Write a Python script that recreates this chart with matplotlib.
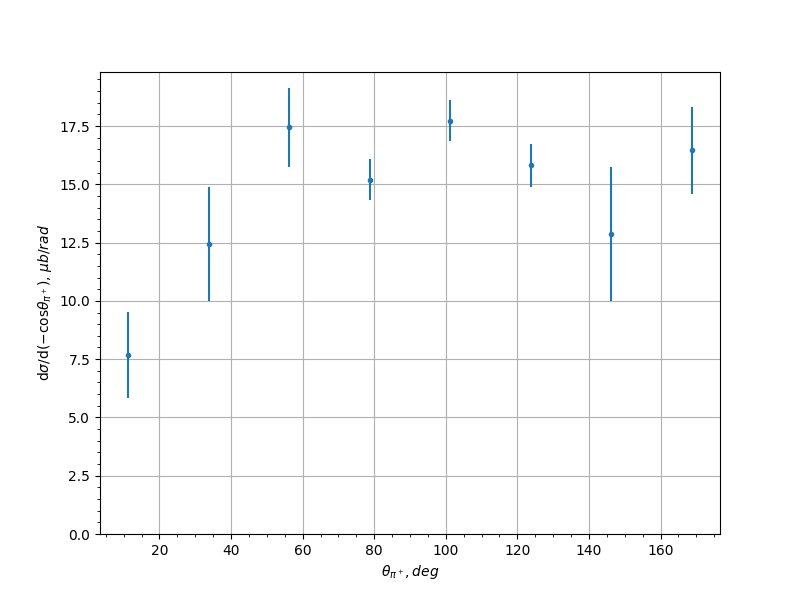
import numpy as np
import matplotlib
matplotlib.use("Agg")
import matplotlib.pyplot as plt

# bin centres (deg) and cross section values
theta = [11.25, 33.75, 56.25, 78.75, 101.25, 123.75, 146.25, 168.75]
xsec = [7.67, 12.45, 17.45, 15.2, 17.72, 15.82, 12.88, 16.45]
xsec_err = [1.85, 2.45, 1.7, 0.89, 0.88, 0.92, 2.88, 1.88]

fig = plt.figure(figsize=(8, 6))
ax = plt.gca()
ax.errorbar(theta, xsec, yerr=xsec_err, fmt='.')
ax.set_ylim(bottom=0)
ax.minorticks_on()
ax.grid(which='major')
ax.set_xlabel(r'$\theta_{\pi^+}, deg$')
ax.set_ylabel(r'd$\sigma$/d$(-\mathrm{cos}\theta_{\pi^+})$, $\mu b/rad$')
plt.savefig('out.png', dpi=100)
